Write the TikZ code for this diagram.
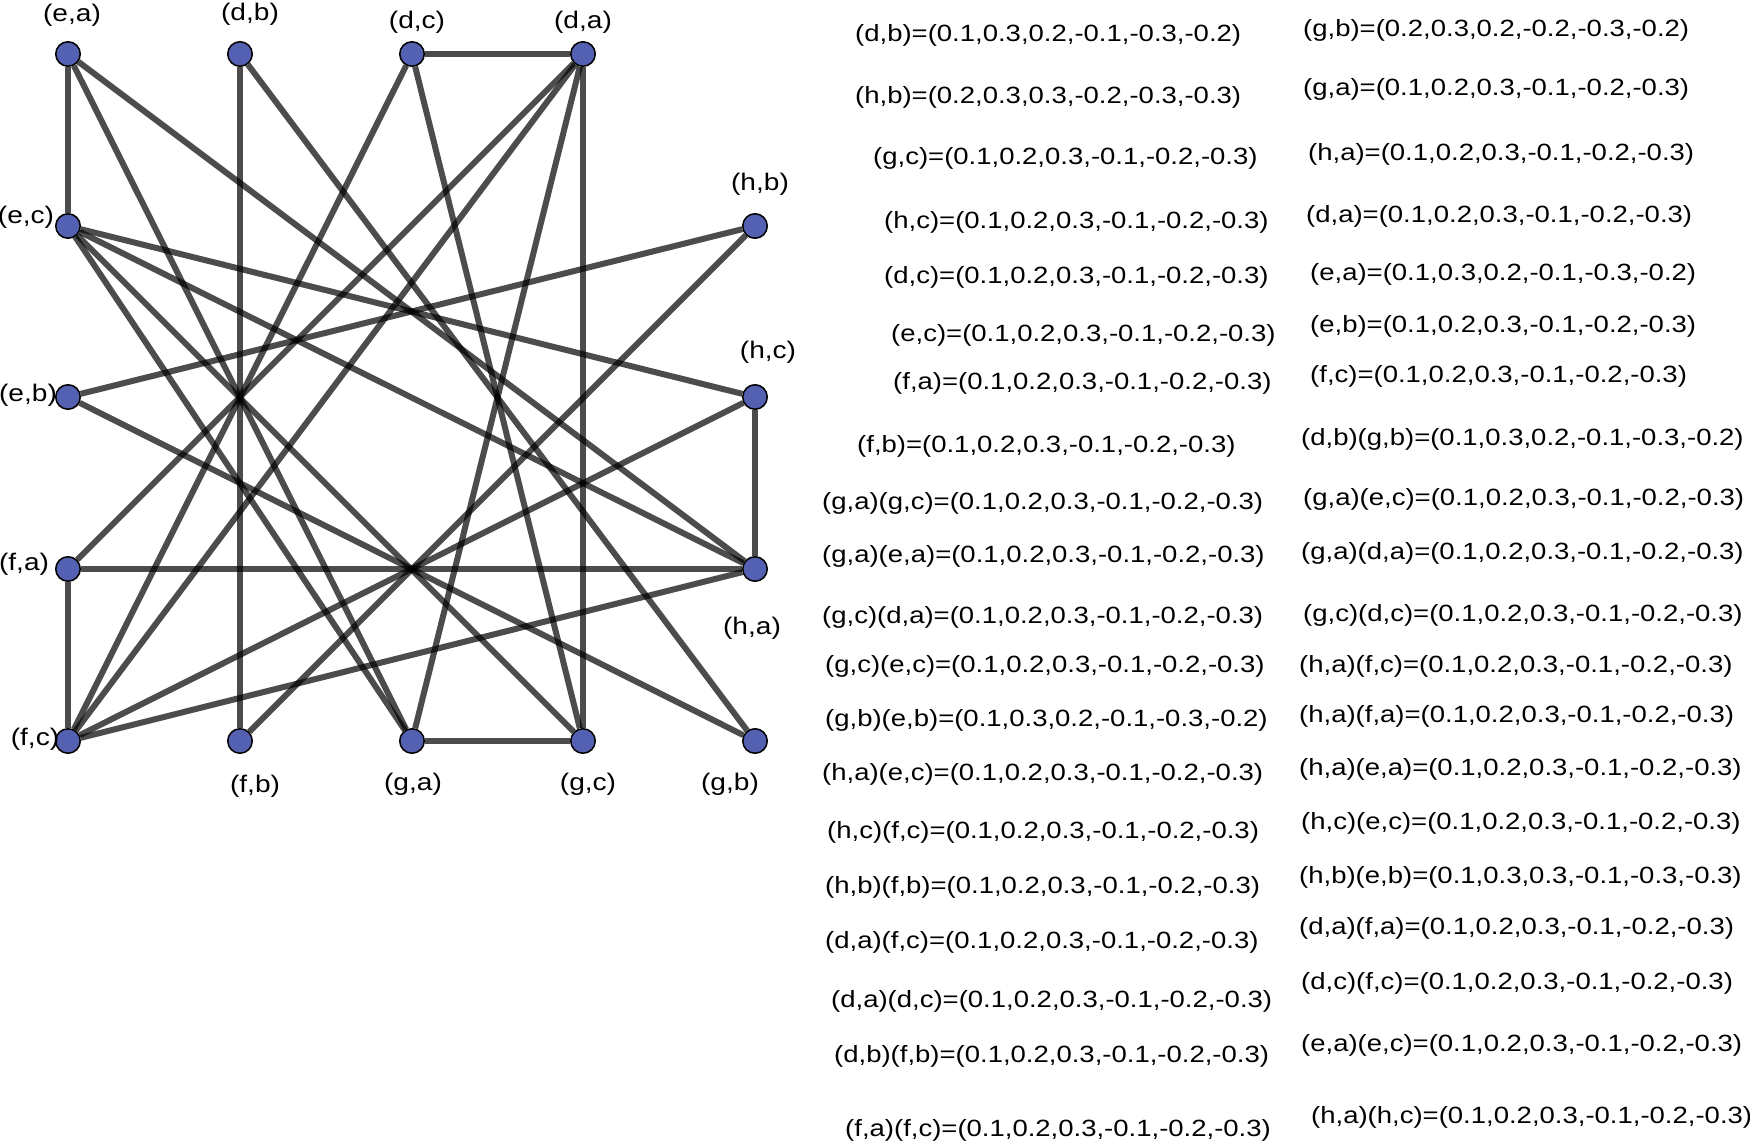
\documentclass[tikz,border=0pt]{standalone}
\usepackage{fontspec}
\setmainfont{Liberation Sans}
\newfontfamily\lblfont[FakeStretch=1.17]{Liberation Sans}
\usetikzlibrary{backgrounds}
\definecolor{vblue}{RGB}{84,97,178}
\tikzset{
  vtx/.style={circle, draw=black, line width=1.5, fill=vblue, minimum size=24.5, inner sep=0},
  edge/.style={line width=6, draw=black, opacity=0.7},
  lbl/.style={font=\lblfont\fontsize{24}{28}\selectfont, inner sep=0},
  txt/.style={font=\lblfont\fontsize{23.5}{28}\selectfont, inner sep=0, anchor=west}
}
\begin{document}
\begin{tikzpicture}[x=1pt, y=-1pt]
\useasboundingbox (0,0) rectangle (1750,1145);
% vertices
\node[vtx] (ea) at (68,54) {};
\node[vtx] (db) at (240,54) {};
\node[vtx] (dc) at (412,54) {};
\node[vtx] (da) at (583,54) {};
\node[vtx] (ec) at (68,226) {};
\node[vtx] (hb) at (755,226) {};
\node[vtx] (eb) at (68,397) {};
\node[vtx] (hc) at (755,397) {};
\node[vtx] (fa) at (68,569) {};
\node[vtx] (ha) at (755,569) {};
\node[vtx] (fc) at (68,741) {};
\node[vtx] (fb) at (240,741) {};
\node[vtx] (ga) at (412,741) {};
\node[vtx] (gc) at (583,741) {};
\node[vtx] (gbv) at (755,741) {};
% edges
\begin{scope}[on background layer]
\draw[edge] (db) -- (gbv);
\draw[edge] (ga) -- (gc);
\draw[edge] (ga) -- (ec);
\draw[edge] (ga) -- (ea);
\draw[edge] (ga) -- (da);
\draw[edge] (gc) -- (da);
\draw[edge] (gc) -- (dc);
\draw[edge] (gc) -- (ec);
\draw[edge] (ha) -- (fc);
\draw[edge] (gbv) -- (eb);
\draw[edge] (ha) -- (fa);
\draw[edge] (ha) -- (ec);
\draw[edge] (ha) -- (ea);
\draw[edge] (hc) -- (fc);
\draw[edge] (hc) -- (ec);
\draw[edge] (hb) -- (fb);
\draw[edge] (hb) -- (eb);
\draw[edge] (da) -- (fc);
\draw[edge] (da) -- (fa);
\draw[edge] (da) -- (dc);
\draw[edge] (dc) -- (fc);
\draw[edge] (db) -- (fb);
\draw[edge] (ea) -- (ec);
\draw[edge] (fa) -- (fc);
\draw[edge] (ha) -- (hc);
\end{scope}
% vertex labels
\node[lbl] (lea) at (72,15) {(e,a)};
\node[lbl] (ldb) at (250,14) {(d,b)};
\node[lbl] (ldc) at (417,22) {(d,c)};
\node[lbl] (lda) at (583,22) {(d,a)};
\node[lbl] (lhb) at (760,184) {(h,b)};
\node[lbl] (lhc) at (768,352) {(h,c)};
\node[lbl] (lec) at (26,217) {(e,c)};
\node[lbl] (leb) at (28,395) {(e,b)};
\node[lbl] (lfa) at (24,564) {(f,a)};
\node[lbl] (lfc) at (35,739) {(f,c)};
\node[lbl] (lfb) at (255,786) {(f,b)};
\node[lbl] (lga) at (413,784) {(g,a)};
\node[lbl] (lgc) at (588,784) {(g,c)};
\node[lbl] (lgb) at (730,784) {(g,b)};
\node[lbl] (lha) at (752,628) {(h,a)};
% left column of values
\node[txt] (t1) at (855,35) {(d,b)=(0.1,0.3,0.2,-0.1,-0.3,-0.2)};
\node[txt] (t2) at (855,97) {(h,b)=(0.2,0.3,0.3,-0.2,-0.3,-0.3)};
\node[txt] (t3) at (873,158) {(g,c)=(0.1,0.2,0.3,-0.1,-0.2,-0.3)};
\node[txt] (t4) at (884,222) {(h,c)=(0.1,0.2,0.3,-0.1,-0.2,-0.3)};
\node[txt] (t5) at (884,277) {(d,c)=(0.1,0.2,0.3,-0.1,-0.2,-0.3)};
\node[txt] (t6) at (891,335) {(e,c)=(0.1,0.2,0.3,-0.1,-0.2,-0.3)};
\node[txt] (t7) at (893,383) {(f,a)=(0.1,0.2,0.3,-0.1,-0.2,-0.3)};
\node[txt] (t8) at (857,446) {(f,b)=(0.1,0.2,0.3,-0.1,-0.2,-0.3)};
\node[txt] (t9) at (822,503) {(g,a)(g,c)=(0.1,0.2,0.3,-0.1,-0.2,-0.3)};
\node[txt] (t10) at (822,556) {(g,a)(e,a)=(0.1,0.2,0.3,-0.1,-0.2,-0.3)};
\node[txt] (t11) at (822,617) {(g,c)(d,a)=(0.1,0.2,0.3,-0.1,-0.2,-0.3)};
\node[txt] (t12) at (825,666) {(g,c)(e,c)=(0.1,0.2,0.3,-0.1,-0.2,-0.3)};
\node[txt] (t13) at (825,720) {(g,b)(e,b)=(0.1,0.3,0.2,-0.1,-0.3,-0.2)};
\node[txt] (t14) at (822,774) {(h,a)(e,c)=(0.1,0.2,0.3,-0.1,-0.2,-0.3)};
\node[txt] (t15) at (827,832) {(h,c)(f,c)=(0.1,0.2,0.3,-0.1,-0.2,-0.3)};
\node[txt] (t16) at (825,887) {(h,b)(f,b)=(0.1,0.2,0.3,-0.1,-0.2,-0.3)};
\node[txt] (t17) at (825,942) {(d,a)(f,c)=(0.1,0.2,0.3,-0.1,-0.2,-0.3)};
\node[txt] (t18) at (831,1001) {(d,a)(d,c)=(0.1,0.2,0.3,-0.1,-0.2,-0.3)};
\node[txt] (t19) at (834,1056) {(d,b)(f,b)=(0.1,0.2,0.3,-0.1,-0.2,-0.3)};
\node[txt] (t20) at (845,1130) {(f,a)(f,c)=(0.1,0.2,0.3,-0.1,-0.2,-0.3)};
% right column of values
\node[txt] (u1) at (1303,30) {(g,b)=(0.2,0.3,0.2,-0.2,-0.3,-0.2)};
\node[txt] (u2) at (1303,89) {(g,a)=(0.1,0.2,0.3,-0.1,-0.2,-0.3)};
\node[txt] (u3) at (1308,154) {(h,a)=(0.1,0.2,0.3,-0.1,-0.2,-0.3)};
\node[txt] (u4) at (1306,216) {(d,a)=(0.1,0.2,0.3,-0.1,-0.2,-0.3)};
\node[txt] (u5) at (1310,274) {(e,a)=(0.1,0.3,0.2,-0.1,-0.3,-0.2)};
\node[txt] (u6) at (1310,326) {(e,b)=(0.1,0.2,0.3,-0.1,-0.2,-0.3)};
\node[txt] (u7) at (1310,376) {(f,c)=(0.1,0.2,0.3,-0.1,-0.2,-0.3)};
\node[txt] (u8) at (1301,439) {(d,b)(g,b)=(0.1,0.3,0.2,-0.1,-0.3,-0.2)};
\node[txt] (u9) at (1303,499) {(g,a)(e,c)=(0.1,0.2,0.3,-0.1,-0.2,-0.3)};
\node[txt] (u10) at (1301,553) {(g,a)(d,a)=(0.1,0.2,0.3,-0.1,-0.2,-0.3)};
\node[txt] (u11) at (1303,615) {(g,c)(d,c)=(0.1,0.2,0.3,-0.1,-0.2,-0.3)};
\node[txt] (u12) at (1299,666) {(h,a)(f,c)=(0.1,0.2,0.3,-0.1,-0.2,-0.3)};
\node[txt] (u13) at (1299,716) {(h,a)(f,a)=(0.1,0.2,0.3,-0.1,-0.2,-0.3)};
\node[txt] (u14) at (1299,769) {(h,a)(e,a)=(0.1,0.2,0.3,-0.1,-0.2,-0.3)};
\node[txt] (u15) at (1301,823) {(h,c)(e,c)=(0.1,0.2,0.3,-0.1,-0.2,-0.3)};
\node[txt] (u16) at (1299,877) {(h,b)(e,b)=(0.1,0.3,0.3,-0.1,-0.3,-0.3)};
\node[txt] (u17) at (1299,928) {(d,a)(f,a)=(0.1,0.2,0.3,-0.1,-0.2,-0.3)};
\node[txt] (u18) at (1301,983) {(d,c)(f,c)=(0.1,0.2,0.3,-0.1,-0.2,-0.3)};
\node[txt] (u19) at (1301,1045) {(e,a)(e,c)=(0.1,0.2,0.3,-0.1,-0.2,-0.3)};
\node[txt] (u20) at (1311,1117) {(h,a)(h,c)=(0.1,0.2,0.3,-0.1,-0.2,-0.3)};
\end{tikzpicture}
\end{document}
